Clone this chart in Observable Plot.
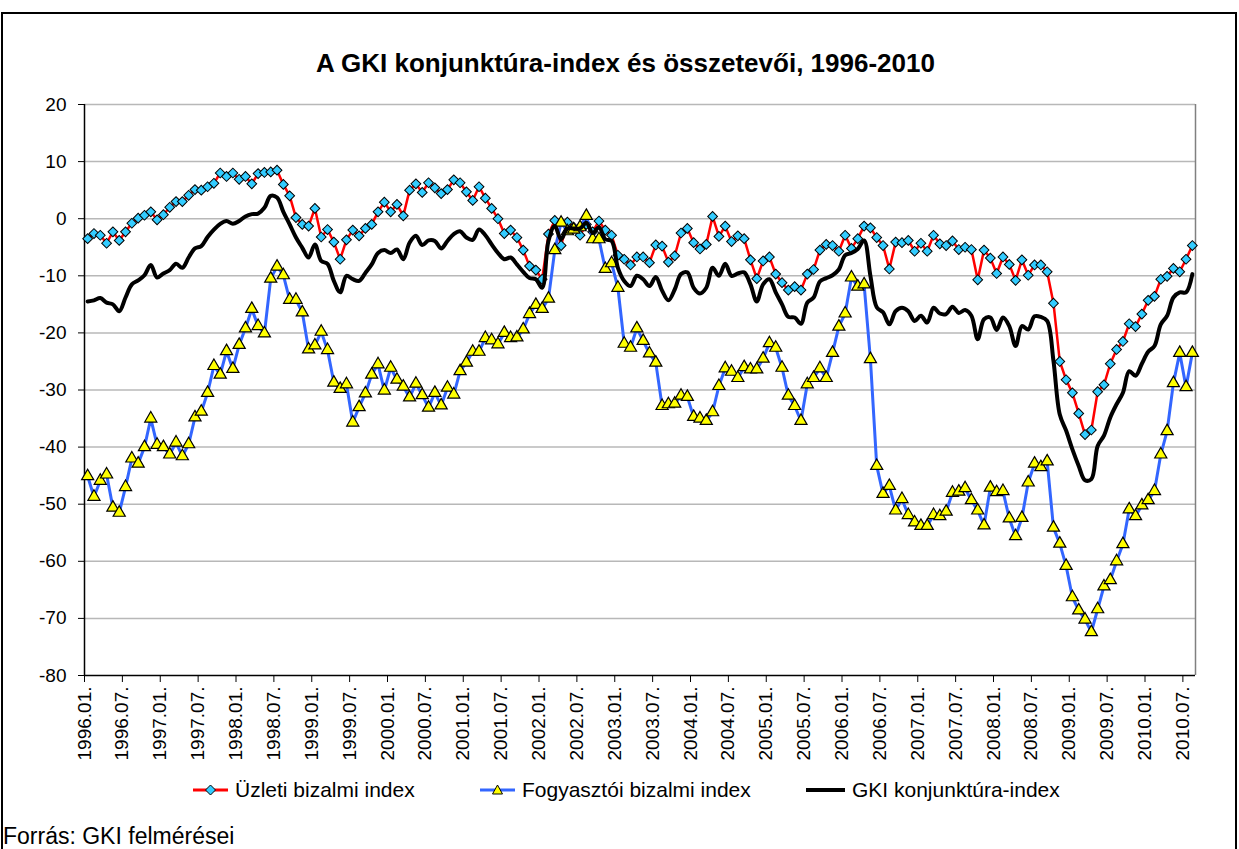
<!DOCTYPE html>
<html><head><meta charset="utf-8">
<script src="https://cdn.jsdelivr.net/npm/d3@7"></script>
<script src="https://cdn.jsdelivr.net/npm/@observablehq/plot@0.6"></script>
<style>
html,body{margin:0;padding:0;background:#fff;overflow:hidden;}
body{width:1239px;height:849px;position:relative;font-family:"Liberation Sans",Arial,sans-serif;color:#000;}
#frame{position:absolute;left:1px;top:12px;width:1236px;height:880px;border:2px solid #000;box-sizing:border-box;}
#title{position:absolute;left:316px;top:50px;font-size:26px;line-height:26px;font-weight:bold;white-space:nowrap;}
#chart{position:absolute;left:0;top:90px;}
.leg{position:absolute;top:779px;height:22px;display:flex;align-items:center;font-size:21px;line-height:22px;white-space:nowrap;}
.leg svg{margin-right:6px;}
#caption{position:absolute;left:3px;top:825px;font-size:23px;line-height:23px;white-space:nowrap;}
</style>
</head><body>
<div id="frame"></div>
<div id="title">A GKI konjunktúra-index és összetevői, 1996-2010</div>
<div id="chart"></div>
<div class="leg" style="left:193px"><svg width="36" height="14"><line x1="0" y1="7" x2="35" y2="7" stroke="#ff0000" stroke-width="3"/><polygon points="17.5,2 22.5,7 17.5,12 12.5,7" fill="#33ccff" stroke="#000" stroke-width="1"/></svg><span>Üzleti bizalmi index</span></div>
<div class="leg" style="left:480px"><svg width="36" height="14"><line x1="0" y1="7" x2="35" y2="7" stroke="#3366ff" stroke-width="3"/><polygon points="17.5,2 22.5,11 12.5,11" fill="#ffff00" stroke="#000" stroke-width="1"/></svg><span>Fogyasztói bizalmi index</span></div>
<div class="leg" style="left:806px"><svg width="40" height="14"><line x1="0" y1="7" x2="39" y2="7" stroke="#000" stroke-width="4"/></svg><span>GKI konjunktúra-index</span></div>
<div id="caption">Forrás: GKI felmérései</div>
<script>
// Monthly values, 1996.01 – 2010.08 (176 months)
const uzleti = [
 -3.5,-2.6,-2.9,-4.3,-2.3,-3.8,-2.3,-0.8,0.1,0.6,1.2,-0.2,
 0.7,2.0,3.0,3.0,4.1,5.1,5.0,5.6,6.2,8.0,7.4,8.0,
 6.9,7.4,6.1,7.9,8.1,8.2,8.5,6.0,4.0,0.2,-1.0,-1.3,
 1.8,-3.2,-1.9,-4.1,-7.1,-3.7,-2.0,-3.0,-1.7,-1.0,1.2,2.9,
 1.2,2.5,0.5,5.0,6.1,4.6,6.3,5.4,4.4,5.1,6.8,6.3,
 4.7,3.2,5.6,3.6,1.8,0.0,-2.6,-2.0,-3.3,-5.5,-8.3,-9.0,
 -10.6,-2.7,-0.3,-4.7,-0.6,-1.5,-2.9,-1.0,-2.3,-0.4,-2.0,-2.9,
 -6.4,-7.1,-8.1,-6.7,-6.7,-7.7,-4.6,-4.8,-7.6,-6.5,-2.5,-1.7,
 -4.2,-5.3,-4.5,0.4,-3.1,-1.3,-4.0,-3.0,-3.5,-7.2,-10.5,-7.4,
 -6.7,-9.7,-11.2,-12.5,-11.9,-12.5,-9.7,-8.9,-5.5,-4.5,-4.7,-5.7,
 -2.9,-5.2,-3.5,-1.3,-1.6,-3.3,-4.7,-8.8,-4.1,-4.2,-3.8,-5.7,
 -4.3,-5.7,-2.9,-4.4,-4.7,-3.9,-5.4,-5.0,-5.4,-10.7,-5.5,-6.9,
 -9.6,-6.7,-8.0,-10.8,-7.2,-9.9,-8.1,-8.1,-9.3,-14.8,-25.0,-28.2,
 -30.5,-34.1,-37.8,-37.0,-30.3,-29.1,-25.4,-22.9,-21.5,-18.4,-18.9,-16.7,
 -14.3,-13.6,-10.6,-10.1,-8.7,-9.3,-7.1,-4.7
];
const fogyasztoi = [
 -45.1,-48.7,-45.9,-44.8,-50.6,-51.5,-47.0,-42.0,-42.9,-40.0,-35.0,-39.6,
 -40.0,-41.3,-39.2,-41.6,-39.5,-34.8,-33.8,-30.5,-25.8,-27.3,-23.2,-26.3,
 -22.1,-19.2,-15.8,-18.8,-20.1,-10.5,-8.4,-9.9,-14.2,-14.2,-16.4,-22.9,
 -22.2,-19.8,-23.0,-28.7,-29.8,-29.0,-35.7,-33.0,-30.6,-27.3,-25.5,-30.1,
 -26.1,-28.2,-29.4,-31.3,-28.9,-30.9,-33.1,-30.5,-32.7,-29.6,-30.8,-26.7,
 -25.2,-23.3,-23.3,-20.9,-21.3,-22.0,-20.0,-20.9,-20.8,-19.4,-16.7,-15.1,
 -15.8,-14.0,-5.5,-0.7,-2.2,-1.9,-1.5,0.5,-3.6,-3.6,-8.8,-7.8,
 -12.1,-21.9,-22.6,-19.2,-21.4,-23.6,-25.2,-32.8,-32.5,-32.4,-31.0,-31.2,
 -34.7,-35.0,-35.4,-33.9,-29.3,-26.2,-26.8,-27.9,-26.0,-26.4,-26.4,-24.5,
 -21.8,-22.6,-26.1,-31.0,-32.8,-35.4,-29.0,-27.9,-26.2,-27.9,-23.5,-18.9,
 -16.6,-10.3,-11.9,-11.5,-24.6,-43.3,-48.2,-46.8,-51.1,-49.1,-51.9,-53.2,
 -53.8,-53.8,-51.9,-52.1,-51.3,-48.0,-47.8,-47.2,-49.3,-51.1,-53.7,-47.1,
 -47.9,-47.7,-52.5,-55.6,-52.4,-46.2,-42.9,-43.5,-42.5,-54.1,-56.9,-60.8,
 -66.3,-68.6,-70.2,-72.4,-68.4,-64.4,-63.3,-60.0,-57.0,-50.9,-52.1,-50.2,
 -49.3,-47.7,-41.3,-37.2,-28.8,-23.5,-29.5,-23.5
];
const gki = [
 -14.5,-14.3,-13.9,-14.7,-15.0,-16.2,-13.8,-11.5,-10.8,-9.9,-8.1,-10.3,
 -9.6,-9.0,-7.9,-8.6,-6.8,-5.2,-4.8,-3.2,-1.9,-0.9,-0.4,-0.9,
 -0.4,0.4,0.8,0.9,1.9,4.0,3.7,1.2,-1.0,-3.3,-5.1,-6.8,
 -4.5,-7.4,-7.9,-10.9,-12.9,-10.0,-10.6,-10.9,-9.5,-8.0,-6.0,-5.5,
 -6.0,-5.4,-7.1,-4.2,-3.0,-4.6,-3.8,-3.9,-5.2,-3.9,-2.7,-2.2,
 -3.3,-3.7,-1.9,-2.9,-4.5,-6.0,-7.1,-6.8,-8.0,-9.3,-10.4,-10.6,
 -12.1,-3.9,-1.3,-3.6,-1.7,-1.7,-1.7,-0.7,-2.5,-1.5,-3.6,-3.9,
 -8.6,-10.9,-11.8,-10.0,-10.6,-11.8,-10.2,-12.6,-14.3,-12.4,-9.7,-9.4,
 -12.1,-13.1,-12.1,-8.6,-10.0,-7.9,-10.0,-9.6,-9.4,-11.5,-14.5,-11.5,
 -10.6,-12.9,-15.0,-17.2,-17.3,-18.4,-14.7,-13.8,-11.0,-10.4,-9.9,-8.9,
 -6.4,-6.0,-5.3,-3.8,-10.0,-15.5,-16.4,-18.5,-16.2,-15.6,-16.2,-17.9,
 -17.0,-18.2,-15.6,-16.6,-16.7,-15.4,-16.5,-16.0,-17.0,-21.1,-17.6,-17.3,
 -19.5,-17.3,-18.8,-22.3,-18.8,-19.4,-17.1,-17.2,-17.9,-24.9,-34.3,-37.1,
 -40.4,-43.3,-45.8,-45.6,-39.8,-38.0,-34.8,-32.5,-30.5,-26.7,-27.5,-25.4,
 -23.3,-22.3,-18.5,-17.0,-13.8,-12.9,-12.9,-9.7
];
const xTickLabels = ["1996.01.","1996.07.","1997.01.","1997.07.","1998.01.","1998.07.",
 "1999.01.","1999.07.","2000.01.","2000.07.","2001.01.","2001.07.","2002.01.","2002.07.",
 "2003.01.","2003.07.","2004.01.","2004.07.","2005.01.","2005.07.","2006.01.","2006.07.",
 "2007.01.","2007.07.","2008.01.","2008.07.","2009.01.","2009.07.","2010.01.","2010.07."];
const yTicks = [20,10,0,-10,-20,-30,-40,-50,-60,-70,-80];

const rows = uzleti.map((u, i) => ({m: i + 0.5, u, f: fogyasztoi[i], g: gki[i]}));
const xTickPos = xTickLabels.map((_, i) => i * 6);
const labelAt = new Map(xTickPos.map((p, i) => [p, xTickLabels[i]]));

const chart = Plot.plot({
  width: 1239, height: 680,
  marginTop: 14, marginBottom: 95, marginLeft: 84, marginRight: 44,
  style: {fontFamily: '"Liberation Sans", Arial, sans-serif', fontSize: "18px", color: "#000", background: "transparent"},
  x: {domain: [0, 176], axis: null},
  y: {domain: [-80, 20], axis: null},
  marks: [
    Plot.ruleY(yTicks.filter(v => v > -80), {stroke: "#b8b8b8", strokeWidth: 1.5}),
    Plot.ruleX([176], {stroke: "#808080", strokeWidth: 1.5}),
    Plot.axisY({ticks: yTicks, tickFormat: d => String(d), tickSize: 6, tickPadding: 12, fontSize: 19, stroke: "#000", label: null}),
    Plot.axisX({ticks: xTickPos, tickFormat: d => labelAt.get(d), tickRotate: -90, tickSize: 7, tickPadding: 4, fontSize: 19, stroke: "#000", label: null}),
    Plot.ruleX([0], {stroke: "#000", strokeWidth: 1.5}),
    Plot.ruleY([-80], {stroke: "#000", strokeWidth: 1.5}),
    Plot.line(rows, {x: "m", y: "u", stroke: "#ff0000", strokeWidth: 2.5}),
    Plot.dot(rows, {x: "m", y: "u", symbol: "square", r: 3.9, rotate: 45, fill: "#33ccff", stroke: "#000", strokeWidth: 1}),
    Plot.line(rows, {x: "m", y: "f", stroke: "#3366ff", strokeWidth: 3}),
    Plot.dot(rows, {x: "m", y: "f", symbol: "triangle", r: 4.5, fill: "#ffff00", stroke: "#000", strokeWidth: 1.2}),
    Plot.line(rows, {x: "m", y: "g", stroke: "#000", strokeWidth: 4, curve: "catmull-rom"})
  ]
});
document.getElementById("chart").appendChild(chart);
</script>
</body></html>
